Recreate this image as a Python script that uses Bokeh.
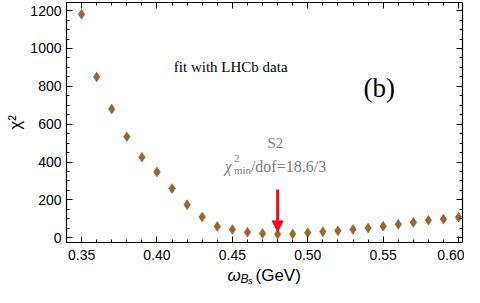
import math
from bokeh.plotting import figure
from bokeh.models import (Range1d, LinearAxis, SingleIntervalTicker, PrintfTickFormatter,
                          Label, Arrow, NormalHead, ColumnDataSource)
from bokeh.embed import file_html
from bokeh.resources import INLINE

# ---- data ----
omega = [0.35, 0.36, 0.37, 0.38, 0.39, 0.40, 0.41, 0.42, 0.43, 0.44, 0.45, 0.46, 0.47,
         0.48, 0.49, 0.50, 0.51, 0.52, 0.53, 0.54, 0.55, 0.56, 0.57, 0.58, 0.59, 0.60]
chi2 = [1181, 850, 680, 534, 426, 348, 260, 175, 110, 60, 44, 29, 22,
        18.6, 20, 27, 32, 37, 44, 51, 61, 71, 81, 92, 98, 108]
best_omega = 0.48
annotation = "fit with LHCb data"
panel = "(b)"
scenario = "S2"
fit_text = "/dof=18.6/3"
x_box = (0.34, 0.6026)
y_box = (-25, 1243)

W, H = 464, 287
BOX_L, BOX_R, BOX_T, BOX_B = 66, 462, 2, 242   # pixel position of the plot box
xs = (x_box[1] - x_box[0]) / (BOX_R - BOX_L)
ys = (y_box[1] - y_box[0]) / (BOX_B - BOX_T)
x_rng = Range1d(x_box[0] - BOX_L * xs, x_box[1] + (W - BOX_R) * xs)
y_rng = Range1d(y_box[0] - (H - BOX_B) * ys, y_box[1] + BOX_T * ys)

p = figure(width=W, height=H, output_backend="svg", toolbar_location=None,
           x_range=x_rng, y_range=y_rng,
           min_border_left=0, min_border_right=0, min_border_top=0, min_border_bottom=0,
           x_axis_location=None, y_axis_location=None)
p.xgrid.visible = False
p.ygrid.visible = False
p.outline_line_color = None
p.background_fill_color = "white"
p.border_fill_color = "white"

def mk_axis(loc, ticker, fixed, bounds, show_labels):
    ax = LinearAxis(ticker=ticker, fixed_location=fixed, bounds=bounds)
    ax.major_tick_in = 6
    ax.major_tick_out = 0
    ax.minor_tick_in = 3
    ax.minor_tick_out = 0
    ax.axis_line_color = "black"
    ax.axis_line_width = 1.2
    ax.major_tick_line_color = "black"
    ax.minor_tick_line_color = "black"
    if show_labels:
        ax.major_label_text_font = "Liberation Sans"
        ax.major_label_text_font_size = "14px"
        ax.major_label_text_color = "black"
    else:
        ax.major_label_text_font_size = "0px"
        ax.major_label_standoff = 0
        ax.major_label_text_alpha = 0
    p.add_layout(ax, loc)
    return ax

xt = lambda: SingleIntervalTicker(interval=0.05, num_minor_ticks=5)
yt = lambda: SingleIntervalTicker(interval=200, num_minor_ticks=4)

xb = mk_axis("below", xt(), y_box[0], x_box, True)
xb.formatter = PrintfTickFormatter(format="%.2f")
xb.major_label_standoff = 7
yl = mk_axis("left", yt(), x_box[0], y_box, True)
yl.major_label_standoff = 5
mk_axis("above", xt(), y_box[1], x_box, False)
mk_axis("right", yt(), x_box[1], y_box, False)

src = ColumnDataSource(dict(x=omega, y=chi2))
p.scatter("x", "y", source=src, marker="diamond", size=10,
          fill_color="#996633", line_color="#996633", line_width=0.5)

serif = "Liberation Serif"
sans = "Liberation Sans"

def lab(x, y, text, font, size, color="black", align="left", baseline="alphabetic",
        style="normal", angle=0.0):
    p.add_layout(Label(x=x, y=y, text=text, text_font=font, text_font_size=size,
                       text_color=color, text_align=align, text_baseline=baseline,
                       text_font_style=style, angle=angle))

def px_x(px):
    return x_box[0] + (px - BOX_L) * xs

def px_y(py):
    return y_box[0] + (BOX_B - py) * ys

lab(0.4489, 902, annotation, serif, "15px", align="center", baseline="middle")
lab(0.5474, 790, panel, serif, "27px", align="center", baseline="middle")
lab(0.4785, 499, scenario, serif, "15px", color="#808080", align="center", baseline="middle")
lab(0.4450, 377, "χ", serif, "16px", color="#808080", style="italic")
lab(0.4510, 418, "2", serif, "11px", color="#808080")
lab(0.4510, 357, "min", serif, "11px", color="#808080")
lab(0.4623, 377, fit_text, serif, "16px", color="#808080")

# axis titles
lab(px_x(15), px_y(122), "χ²", sans, "17px", align="center", baseline="middle",
    angle=math.pi / 2)
lab(px_x(227), px_y(275), "ω", sans, "17px", style="italic")
lab(px_x(240), px_y(278), "B", sans, "12px", style="italic")
lab(px_x(247.5), px_y(280), "s", sans, "9px", style="italic")
lab(px_x(255), px_y(275), "(GeV)", sans, "17px")

red = "#f01020"
p.add_layout(Arrow(end=NormalHead(size=11, fill_color=red, line_color=red, line_width=1),
                   x_start=best_omega, y_start=255, x_end=best_omega, y_end=31,
                   line_color=red, line_width=3))

open("out.html", "w").write(file_html(p, INLINE))
